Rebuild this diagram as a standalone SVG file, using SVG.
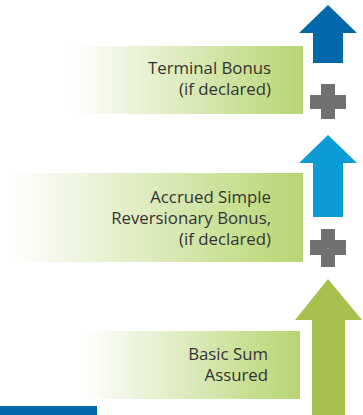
<svg xmlns="http://www.w3.org/2000/svg" width="363" height="415" viewBox="0 0 363 415">
  <defs>
    <linearGradient id="band" x1="0" y1="0" x2="1" y2="0">
      <stop offset="0" stop-color="#ffffff"/>
      <stop offset="0.35" stop-color="#e6f0cf"/>
      <stop offset="1" stop-color="#b7d672"/>
    </linearGradient>
    <style>
      .label { font-family: "Open Sans", "Liberation Sans", Arial, sans-serif; font-size: 16.8px; fill: #333333; text-anchor: end; }
      .plus { fill: #717174; }
    </style>
  </defs>

  <!-- Terminal bonus tier -->
  <g id="terminal-bonus">
    <rect x="70" y="46" width="233" height="68" fill="url(#band)"/>
    <text class="label" x="271" y="74">Terminal Bonus</text>
    <text class="label" x="271" y="95">(if declared)</text>
    <polygon points="328,5 357,33 343,33 343,63 313,63 313,33 299,33" fill="#0067a9"/>
  </g>

  <g id="plus-1">
    <path class="plus" d="M321,84 H335 V95 H346 V109 H335 V119 H321 V109 H310 V95 H321 Z"/>
  </g>

  <!-- Reversionary bonus tier -->
  <g id="reversionary-bonus">
    <rect x="10" y="173" width="293" height="89" fill="url(#band)"/>
    <text class="label" x="271" y="203">Accrued Simple</text>
    <text class="label" x="271" y="224">Reversionary Bonus,</text>
    <text class="label" x="271" y="245">(if declared)</text>
    <polygon points="328,135 357,163 343,163 343,217 313,217 313,163 299,163" fill="#0b9bd7"/>
  </g>

  <g id="plus-2">
    <path class="plus" d="M321,229 H335 V240 H346 V255 H335 V267 H321 V255 H310 V240 H321 Z"/>
  </g>

  <!-- Basic sum assured tier -->
  <g id="basic-sum-assured">
    <rect x="82" y="331" width="218" height="68" fill="url(#band)"/>
    <text class="label" x="268" y="360">Basic Sum</text>
    <text class="label" x="268" y="381">Assured</text>
    <polygon points="328,279 362,320 345,320 345,415 312,415 312,320 295,320" fill="#a8c14e"/>
  </g>

  <rect id="footer-bar" x="0" y="406" width="97" height="9" fill="#0067a9"/>

  <g id="connectors"/>
</svg>
